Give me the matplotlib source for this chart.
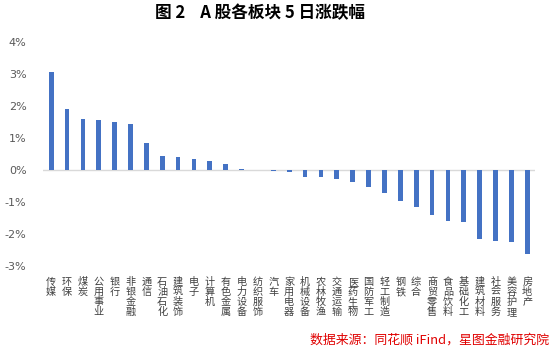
import numpy as np
import matplotlib.pyplot as plt

plt.rcParams['font.family'] = ['Noto Sans CJK SC', 'DejaVu Sans']

sectors = ["传媒", "环保", "煤炭", "公用事业", "银行", "非银金融", "通信", "石油石化",
           "建筑装饰", "电子", "计算机", "有色金属", "电力设备", "纺织服饰", "汽车",
           "家用电器", "机械设备", "农林牧渔", "交通运输", "医药生物", "国防军工",
           "轻工制造", "钢铁", "综合", "商贸零售", "食品饮料", "基础化工", "建筑材料",
           "社会服务", "美容护理", "房地产"]
change_pct = [3.05, 1.90, 1.59, 1.57, 1.48, 1.44, 0.83, 0.43, 0.40, 0.34, 0.29, 0.18,
              0.04, -0.02, -0.03, -0.08, -0.21, -0.22, -0.29, -0.39, -0.54, -0.72,
              -0.98, -1.16, -1.41, -1.61, -1.62, -2.15, -2.23, -2.27, -2.64]
yticks = [-3, -2, -1, 0, 1, 2, 3, 4]

fig = plt.figure(figsize=(5.54, 3.54), dpi=100)
ax = fig.add_axes([0.078, 0.249, 0.888, 0.633])

x = np.arange(len(sectors))
ax.bar(x, change_pct, width=0.3, color="#4472C4", zorder=3)
ax.axhline(0, color="#D9D9D9", linewidth=1, zorder=2)

ax.set_xlim(-0.5, len(sectors) - 0.5)
ax.set_ylim(-3, 4)
ax.set_yticks(yticks)
ax.set_yticklabels([f"{t}%" for t in yticks], fontsize=8, color="#595959",
                   family=['DejaVu Sans'])
ax.set_xticks(x)
# one character per line, like the stacked category names in the source
ax.set_xticklabels(["\n".join(s) for s in sectors], fontsize=7.3, color="#404040",
                   linespacing=1.0, va="top")
ax.tick_params(axis="both", length=0)
ax.tick_params(axis="x", pad=8)
ax.tick_params(axis="y", pad=12)
for side in ax.spines.values():
    side.set_visible(False)

fig.text(0.469, 0.963, "图 2    A 股各板块 5 日涨跌幅", ha="center", va="center",
         fontsize=12, fontweight="bold", color="black")
fig.text(0.991, 0.04, "数据来源：同花顺 iFind，星图金融研究院", ha="right", va="center",
         fontsize=9.3, color="#E00000", style="italic")

fig.savefig("out.png", dpi=100)
